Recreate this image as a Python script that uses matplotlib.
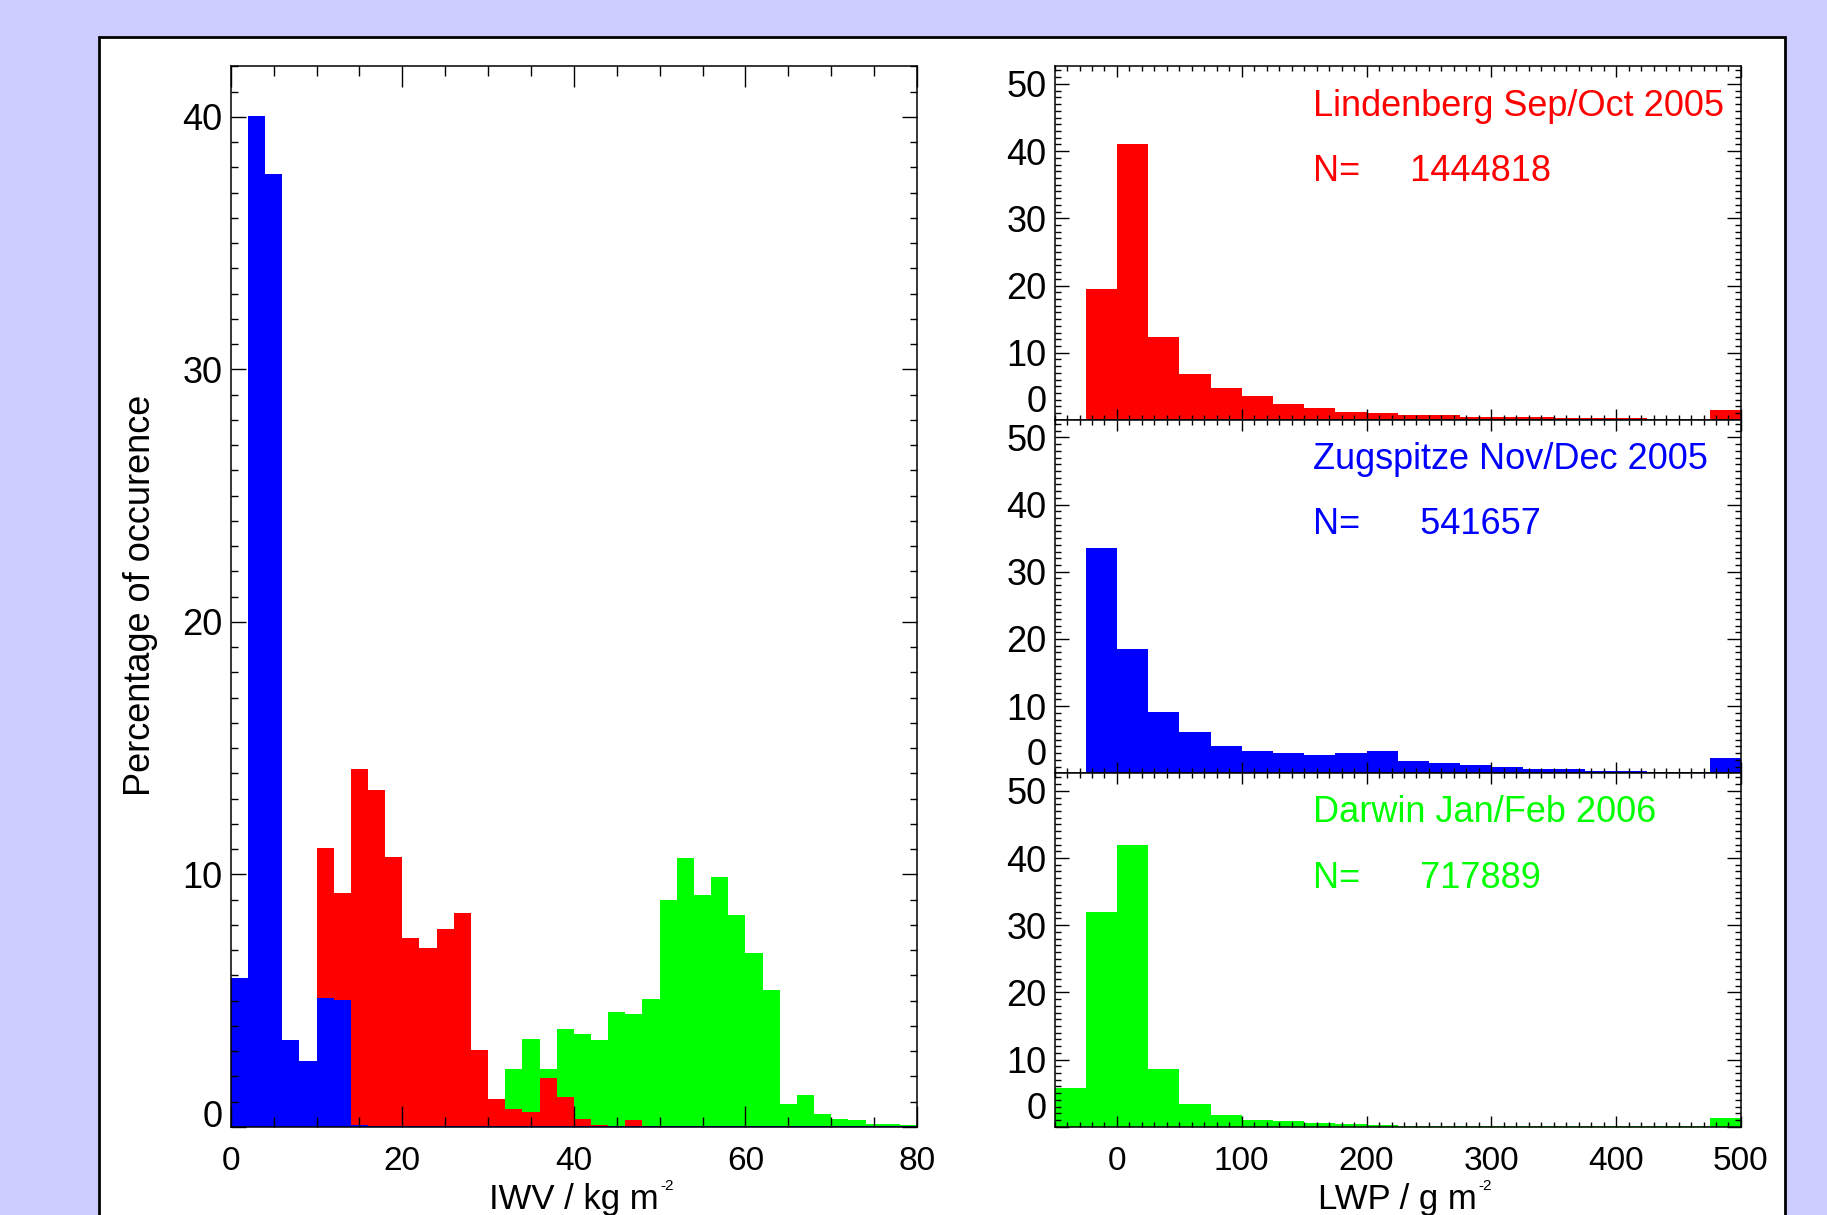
import numpy as np
import matplotlib
matplotlib.use("Agg")
import matplotlib.pyplot as plt
from matplotlib.patches import Rectangle
from matplotlib.ticker import MultipleLocator

plt.rcParams['font.family'] = ['Liberation Sans', 'DejaVu Sans']

# IWV histograms (% per 2 kg m-2 bin, 0..80)
iwv_edges = np.arange(0, 82, 2)
iwv_zugspitze = [5.9, 40.05, 37.76, 3.44, 2.6, 5.1, 5.03, 0.08] + [0.02] * 32
iwv_lindenberg = [0, 0, 0, 0, 0, 11.06, 9.27, 14.17, 13.36, 10.7, 7.47, 7.09,
                  7.83, 8.45, 3.06, 1.12, 0.71, 0.58, 1.92, 1.18, 0.32, 0.08,
                  0.03, 0.26] + [0] * 16
iwv_darwin = [0] * 15 + [0.3, 2.3, 3.48, 2.3, 3.86, 3.67, 3.42, 4.53, 4.48,
                         5.05, 9.0, 10.64, 9.2, 9.88, 8.39, 6.89, 5.41, 0.89,
                         1.26, 0.5, 0.32, 0.26, 0.12, 0.12, 0.06]

# LWP histograms (% per 25 g m-2 bin, -50..500)
lwp_edges = np.arange(-50, 525, 25)
lwp_lindenberg = [0, 19.5, 41.0, 12.3, 6.9, 4.7, 3.5, 2.4, 1.7, 1.25, 1.0,
                  0.75, 0.75, 0.5, 0.5, 0.5, 0.25, 0.25, 0.25, 0.05, 0.05, 1.45]
lwp_zugspitze = [0, 33.5, 18.5, 9.2, 6.1, 4.0, 3.3, 3.1, 2.8, 3.1, 3.3,
                 1.9, 1.5, 1.2, 0.9, 0.65, 0.65, 0.4, 0.4, 0.2, 0.2, 2.3]
lwp_darwin = [5.8, 31.9, 42.0, 8.6, 3.45, 1.75, 1.05, 0.8, 0.6, 0.4, 0.2,
              0.15, 0.15, 0.15, 0.15, 0.15, 0.15, 0.15, 0.15, 0.15, 0.15, 1.3]

sites = ["Lindenberg Sep/Oct 2005", "Zugspitze Nov/Dec 2005", "Darwin Jan/Feb 2006"]
counts = [1444818, 541657, 717889]
colors = ["#ff0000", "#0000ff", "#00ff00"]

fig = plt.figure(figsize=(18.27, 12.15), dpi=100, facecolor="#ccccff")
fig.patches.append(Rectangle((0.0542, -0.02), 0.9228, 0.9895, transform=fig.transFigure,
                             facecolor="white", edgecolor="black", lw=2, zorder=-10))


def style(ax, xmaj_len, xmin_len, ymaj_len, ymin_len):
    for s in ax.spines.values():
        s.set_linewidth(1.1)
    ax.tick_params(which='both', direction='in', top=True, right=True, width=1.0)
    ax.tick_params(axis='x', which='major', length=xmaj_len)
    ax.tick_params(axis='x', which='minor', length=xmin_len)
    ax.tick_params(axis='y', which='major', length=ymaj_len)
    ax.tick_params(axis='y', which='minor', length=ymin_len)
    ax.tick_params(axis='x', labelsize=24, pad=14)
    ax.tick_params(axis='y', labelsize=26, pad=6)


def unit_label(ax, text):
    # axis title with a small raised "-2" like the original
    ax.set_xlabel(text, fontsize=25, labelpad=4)
    ax.annotate('-2', xy=(1.0, 1.0), xycoords=ax.xaxis.label, xytext=(1, 3),
                textcoords='offset points', fontsize=11, ha='left', va='top')


# left panel: IWV
ax = fig.add_axes([0.1263, 0.0726, 0.3756, 0.8727])
for vals, c in [(iwv_darwin, colors[2]), (iwv_lindenberg, colors[0]), (iwv_zugspitze, colors[1])]:
    ax.stairs(vals, iwv_edges, fill=True, color=c, lw=1)
ax.set_xlim(0, 80)
ax.set_ylim(0, 42)
ax.set_xticks([0, 20, 40, 60, 80])
ax.set_yticks([0, 10, 20, 30, 40])
ax.xaxis.set_minor_locator(MultipleLocator(5))
ax.yaxis.set_minor_locator(MultipleLocator(1))
style(ax, 15, 7.5, 11, 5)
ax.yaxis.get_major_ticks()[0].label1.set_va('baseline')
unit_label(ax, 'IWV / kg m')
fig.text(141 / 1827, 0.510, 'Percentage of occurence', rotation=90,
         fontsize=26, ha='center', va='center')

# right panels: LWP
lwp_vals = [lwp_lindenberg, lwp_zugspitze, lwp_darwin]
ph = 0.2909
for i in range(3):
    bottom = 0.0726 + (2 - i) * ph
    ax = fig.add_axes([0.5772, bottom, 0.3757, ph])
    ax.stairs(lwp_vals[i], lwp_edges, fill=True, color=colors[i], lw=1)
    ax.set_xlim(-50, 500)
    ax.set_ylim(0, 52.6)
    ax.set_xticks([0, 100, 200, 300, 400, 500])
    ax.set_yticks([0, 10, 20, 30, 40, 50])
    ax.xaxis.set_minor_locator(MultipleLocator(10))
    ax.yaxis.set_minor_locator(MultipleLocator(1))
    style(ax, 8, 3.6, 10, 4.5)
    ax.yaxis.get_major_ticks()[0].label1.set_va('bottom')
    if i < 2:
        ax.tick_params(axis='x', labelbottom=False)
    else:
        unit_label(ax, 'LWP / g m')
    ax.text(157, 45.3, sites[i], color=colors[i], fontsize=26, va='baseline')
    ax.text(157, 35.6, f"N={counts[i]:12d}", color=colors[i], fontsize=26, va='baseline')

fig.savefig("out.png", dpi=100, facecolor=fig.get_facecolor())
